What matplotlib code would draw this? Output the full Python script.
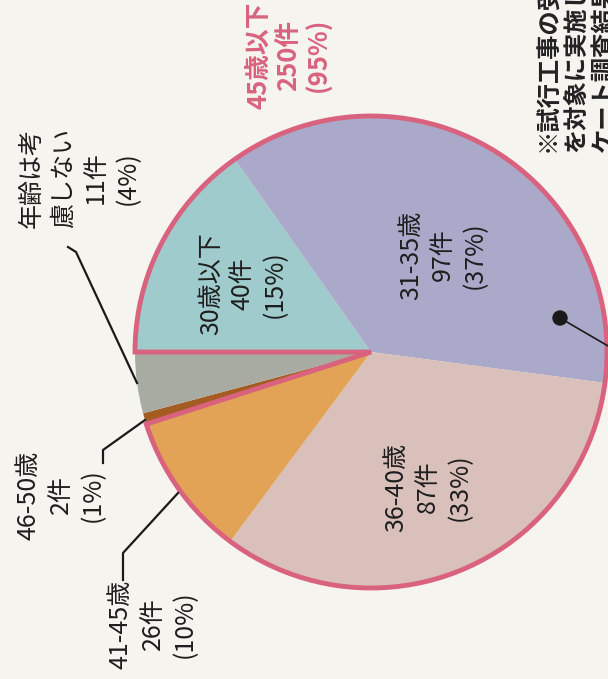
import numpy as np
import matplotlib.pyplot as plt
from matplotlib.patches import Wedge, Circle

plt.rcParams['font.family'] = ['Noto Sans CJK JP', 'DejaVu Sans']

# data (pie goes clockwise from the left)
names = ['30歳以下', '31-35歳', '36-40歳', '41-45歳', '46-50歳', '年齢は考\n慮しない']
counts = [40, 97, 87, 26, 2, 11]
percents = [15, 37, 33, 10, 1, 4]
colors = ['#9fcbcd', '#aba9c9', '#d9c0ba', '#e2a356', '#a45c22', '#a7aba2']
group_name = '45歳以下'
group_count = 250
group_pct = 95
note_lines = ['※試行工事の受注者', 'を対象に実施したアン', 'ケート調査結果より']

W, H = 608, 679
pink = '#d9637f'
bg = '#f6f4ef'

def Y(y):
    # picture rows -> data y
    return H - y

fig = plt.figure(figsize=(W / 100, H / 100), dpi=100, facecolor=bg)
ax = fig.add_axes([0, 0, 1, 1])

cx, cy, r = 371, Y(352), 236
ax.pie(counts, colors=colors, startangle=180, counterclock=False,
       center=(cx, cy), radius=r, wedgeprops=dict(linewidth=0))
ax.set_xlim(0, W)
ax.set_ylim(0, H)
ax.set_aspect('auto')
ax.axis('off')

# pink outline round the 45-and-under group (first four slices)
span = 360 * sum(counts[:4]) / sum(counts)
ax.add_patch(Wedge((cx, cy), r, 180 - span, 180, fill=False, ec=pink, lw=3.5))

# labels inside the pie
inner_pos = [(243, 284), (443, 255), (428, 487)]
for i, (x, y) in enumerate(inner_pos):
    ax.text(x, Y(y), f'{names[i]}\n{counts[i]}件\n({percents[i]}%)', rotation=90,
            ha='center', va='center', multialignment='center',
            fontsize=18, linespacing=1.3, color='#1e1e1e')

# labels outside with leader lines
outer = [(3, (153, 624), [(123, 580), (123, 553), (178, 493)]),
         (4, (61, 495), [(103, 463), (103, 450), (145, 420)]),
         (5, (80, 178), [(68, 247), (76, 252), (137, 383)])]
for i, (x, y), pts in outer:
    ax.text(x, Y(y), f'{names[i]}\n{counts[i]}件\n({percents[i]}%)', rotation=90,
            ha='center', va='center', multialignment='center',
            fontsize=18, linespacing=1.3, color='#1e1e1e')
    px, py = zip(*pts)
    ax.plot(px, [Y(v) for v in py], color='#1a1a1a', lw=1.6)

# group total
ax.text(289, Y(55), f'{group_name}\n{group_count}件\n({group_pct}%)', rotation=90,
        ha='center', va='center', multialignment='center', fontsize=18.5,
        fontweight='bold', linespacing=1.15, color=pink)

# note on the right, with a marker in the 31-35 slice
ax.text(576, Y(152), '\n'.join(note_lines), rotation=90, ha='center', va='bottom',
        multialignment='left', fontsize=17.5, fontweight='bold', linespacing=1.2,
        color='#222222')
ax.add_patch(Circle((560, Y(318)), 7, color='#1a1a1a', zorder=5))
ax.plot([560, 615], [Y(318), Y(350)], color='#1a1a1a', lw=1.2)

fig.savefig('out.png', dpi=100, facecolor=bg)
